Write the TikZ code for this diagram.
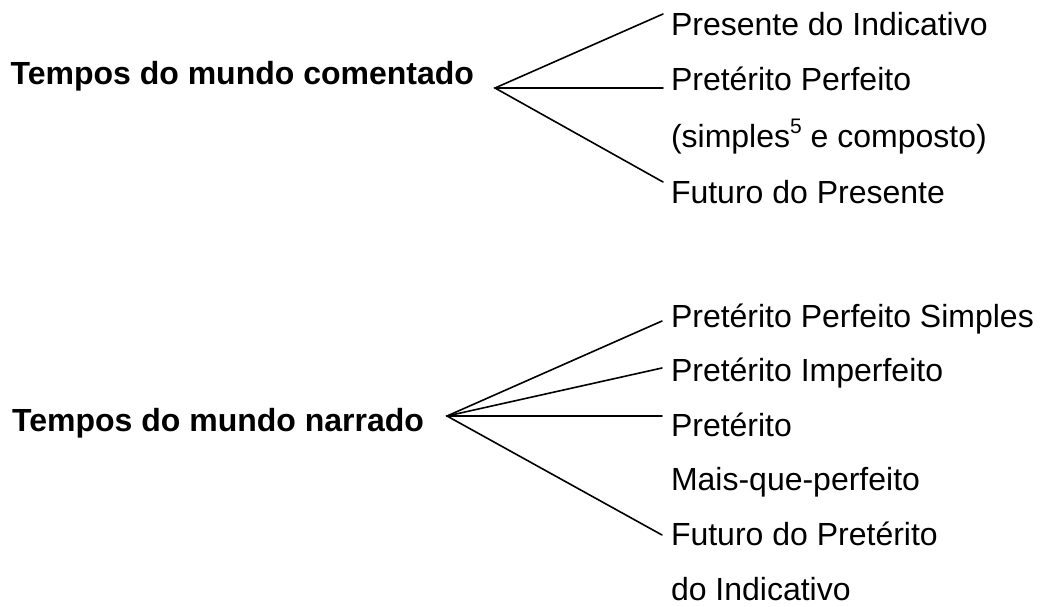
\documentclass[tikz,border=0pt]{standalone}
\usepackage{fontspec}
\setmainfont{Liberation Sans}
\begin{document}
\begin{tikzpicture}[x=1pt,y=-1pt,
  every node/.style={inner sep=0pt,outer sep=0pt},
  item/.style={anchor=base west,font=\fontsize{32}{38}\selectfont},
  head/.style={anchor=base east,font=\fontsize{32}{38}\selectfont\bfseries},
  branch/.style={line width=1.6pt,line cap=round}]
\useasboundingbox (0,0) rectangle (1044,607);

% group 1
\node[head] (h1) at (474,85) {Tempos do mundo comentado};
\node[item] (t1) at (671,36) {Presente do Indicativo};
\node[item] (t2) at (671,91) {Pretérito Perfeito};
\node[item] (t3) at (671,147) {(simples\raisebox{0.42em}{\fontsize{21}{21}\selectfont 5} e composto)};
\node[item] (t4) at (671,203) {Futuro do Presente};
\coordinate (a1) at (495,88);
\coordinate (e11) at (663,14);
\coordinate (e12) at (663,88);
\coordinate (e13) at (663,182);
\draw[branch] (e11) -- (a1) -- (e13);
\draw[branch] (a1) -- (e12);

% group 2
\node[head] (h2) at (424,431) {Tempos do mundo narrado};
\node[item] (n1) at (671,327) {Pretérito Perfeito Simples};
\node[item] (n2) at (671,381.6) {Pretérito Imperfeito};
\node[item] (n3) at (671,436.2) {Pretérito};
\node[item] (n4) at (671,490.8) {Mais-que-perfeito};
\node[item] (n5) at (671,545.4) {Futuro do Pretérito};
\node[item] (n6) at (671,600) {do Indicativo};
\coordinate (a2) at (447,416);
\coordinate (e21) at (662,321);
\coordinate (e22) at (662,368);
\coordinate (e23) at (662,416);
\coordinate (e24) at (662,535);
\draw[branch] (e21) -- (a2) -- (e24);
\draw[branch] (a2) -- (e22);
\draw[branch] (a2) -- (e23);
\end{tikzpicture}
\end{document}
